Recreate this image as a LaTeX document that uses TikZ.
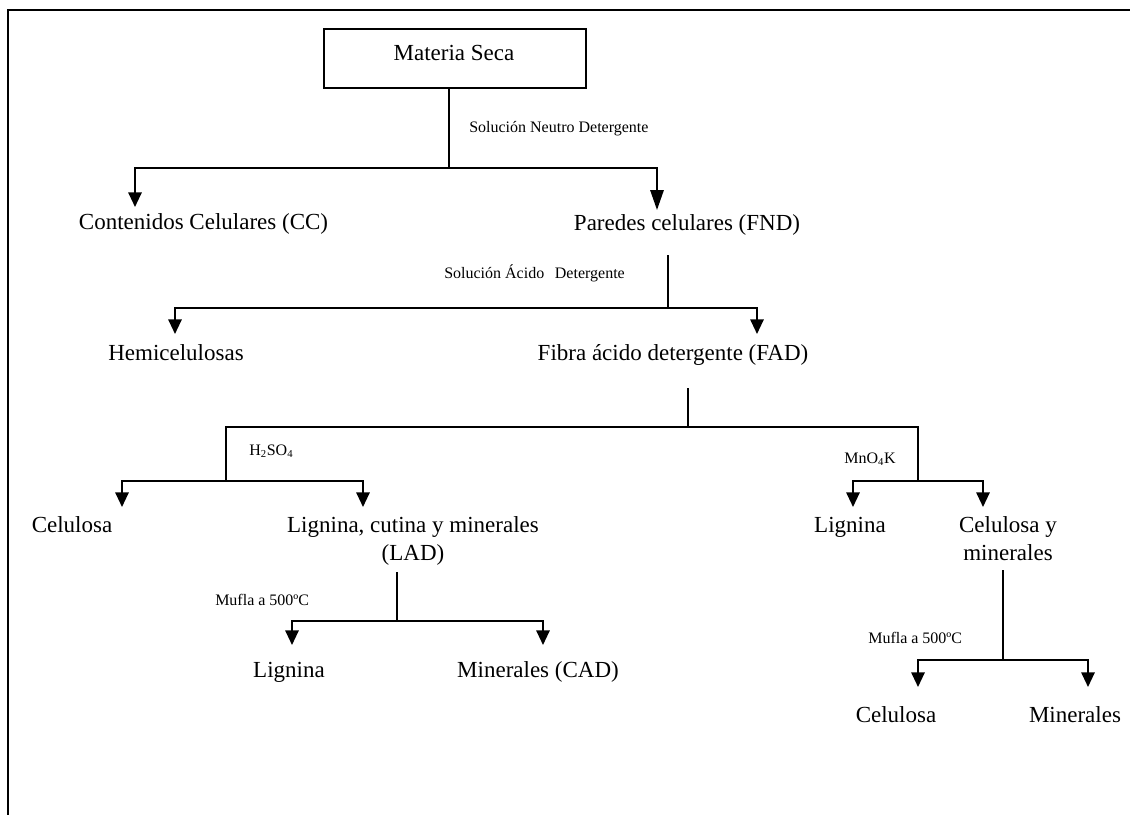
\documentclass[tikz,border=0pt]{standalone}
\usepackage{fontspec}
\setmainfont{Liberation Serif}
\usetikzlibrary{arrows.meta}
\begin{document}
\begin{tikzpicture}[x=0.75pt,y=-0.75pt,
  ln/.style={line width=1.5pt},
  arr/.style={line width=1.5pt,-{Triangle[width=10pt,length=11pt]}},
  arrlong/.style={line width=1.5pt,-{Triangle[width=10pt,length=15pt]}},
  big/.style={font=\fontsize{17.25}{21}\selectfont, inner sep=0pt, align=center},
  small/.style={font=\fontsize{12}{14}\selectfont, inner sep=0pt},
  box/.style={draw, line width=1.5pt, inner sep=0pt, minimum width=196.5pt, minimum height=44.25pt}]
\useasboundingbox (0,0) rectangle (1130,814);
% frame (top and left)
\coordinate (fbl) at (8,816);
\coordinate (ftl) at (8,10);
\coordinate (ftr) at (1132,10);
\draw[ln] (fbl) -- (ftl) -- (ftr);

% root
\node[box] (ms) at (455,58.5) {};
\node[big, anchor=base] (mst) at (454,60) {Materia Seca};

% level 1
\coordinate (j1) at (449,168);
\coordinate (t1a) at (135,207);
\coordinate (t1b) at (657,210);
\draw[ln] (ms.south -| j1) -- (j1);
\draw[arr] (j1) -| (t1a);
\draw[arrlong] (j1) -| (t1b);
\node[small, anchor=base west] (l1) at (469,132) {Solución Neutro Detergente};
\node[big, anchor=base] (cc) at (203.5,229) {Contenidos Celulares (CC)};
\node[big, anchor=base] (fnd) at (687,230) {Paredes celulares (FND)};

% level 2
\coordinate (s2) at (668,255);
\coordinate (j2) at (668,308);
\coordinate (t2a) at (175,334);
\coordinate (t2b) at (757,334);
\draw[ln] (s2) -- (j2);
\draw[arr] (j2) -| (t2a);
\draw[arr] (j2) -| (t2b);
\node[small, anchor=base west] (l2) at (444,278) {Solución Ácido\hspace{8pt}Detergente};
\node[big, anchor=base] (hem) at (176,360) {Hemicelulosas};
\node[big, anchor=base] (fad) at (673,360) {Fibra ácido detergente (FAD)};

% level 3
\coordinate (s3) at (688,388);
\coordinate (j3) at (688,427);
\coordinate (j3a) at (226,427);
\coordinate (j3b) at (918,427);
\coordinate (k3a) at (226,481);
\coordinate (k3b) at (918,481);
\coordinate (t3a) at (122,507);
\coordinate (t3b) at (363,507);
\coordinate (t3c) at (853,507);
\coordinate (t3d) at (983,507);
\draw[ln] (s3) -- (j3);
\draw[ln] (k3a) -- (j3a) -- (j3b) -- (k3b);
\draw[arr] (k3a) -| (t3a);
\draw[arr] (k3a) -| (t3b);
\draw[arr] (k3b) -| (t3c);
\draw[arr] (k3b) -| (t3d);
\node[small, anchor=base west] (l3a) at (249,455) {H\textsubscript{2}SO\textsubscript{4}};
\node[small, anchor=base west] (l3b) at (844,463) {MnO\textsubscript{4}K};
\node[big, anchor=base] (cel1) at (72,532) {Celulosa};
\node[big, anchor=base] (lad) at (413,560) {Lignina, cutina y minerales\\(LAD)};
\node[big, anchor=base] (lig1) at (850,532) {Lignina};
\node[big, anchor=base] (cym) at (1008,560) {Celulosa y\\minerales};

% level 4 left
\coordinate (s4a) at (397,572);
\coordinate (j4a) at (397,621);
\coordinate (t4a) at (292,645);
\coordinate (t4b) at (543,645);
\draw[ln] (s4a) -- (j4a);
\draw[arr] (j4a) -| (t4a);
\draw[arr] (j4a) -| (t4b);
\node[small, anchor=base west] (l4a) at (215,605) {Mufla a 500ºC};
\node[big, anchor=base] (lig2) at (289,677) {Lignina};
\node[big, anchor=base] (cad) at (538,677) {Minerales (CAD)};

% level 4 right
\coordinate (s4b) at (1003,570);
\coordinate (j4b) at (1003,660);
\coordinate (t4c) at (918,687);
\coordinate (t4d) at (1088,687);
\draw[ln] (s4b) -- (j4b);
\draw[arr] (j4b) -| (t4c);
\draw[arr] (j4b) -| (t4d);
\node[small, anchor=base west] (l4b) at (868,643) {Mufla a 500ºC};
\node[big, anchor=base] (cel2) at (896,722) {Celulosa};
\node[big, anchor=base] (min2) at (1075,722) {Minerales};
\end{tikzpicture}
\end{document}
